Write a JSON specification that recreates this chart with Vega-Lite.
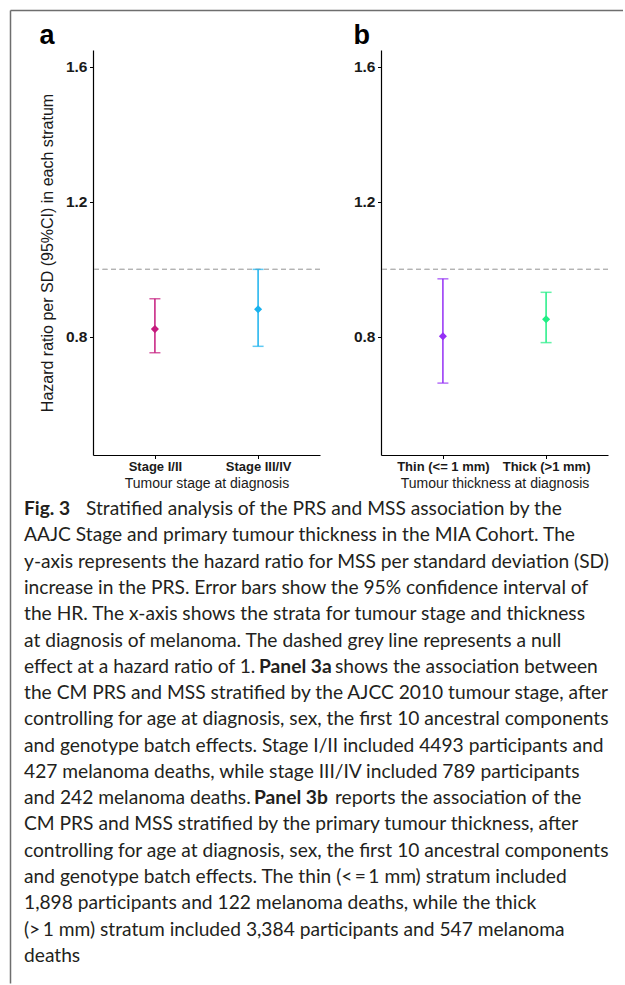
{
  "$schema": "https://vega.github.io/schema/vega-lite/v6.json",
  "background": "white",
  "padding": {"left": 10, "top": 10, "right": 0, "bottom": 0},
  "bounds": "flush",
  "align": "none",
  "spacing": -933,
  "datasets": {
    "stage": [
      {"stratum": "Stage I/II", "hr": 0.823, "lower": 0.753, "upper": 0.913},
      {"stratum": "Stage III/IV", "hr": 0.882, "lower": 0.772, "upper": 1.0}
    ],
    "thickness": [
      {"stratum": "Thin (<= 1 mm)", "hr": 0.802, "lower": 0.663, "upper": 0.972},
      {"stratum": "Thick (>1 mm)", "hr": 0.852, "lower": 0.783, "upper": 0.932}
    ],
    "frame": [{"v": 0}],
    "spacer": [{"v": 0}],
    "caption": [
      {"line": 1, "seg": "b1", "text": "Fig. 3"},
      {"line": 1, "seg": "r1", "text": "Stratified analysis of the PRS and MSS association by the"},
      {"line": 2, "seg": "r", "text": "AAJC Stage and primary tumour thickness in the MIA Cohort. The"},
      {"line": 3, "seg": "r", "text": "y-axis represents the hazard ratio for MSS per standard deviation (SD)"},
      {"line": 4, "seg": "r", "text": "increase in the PRS. Error bars show the 95% confidence interval of"},
      {"line": 5, "seg": "r", "text": "the HR. The x-axis shows the strata for tumour stage and thickness"},
      {"line": 6, "seg": "r", "text": "at diagnosis of melanoma. The dashed grey line represents a null"},
      {"line": 7, "seg": "r", "text": "effect at a hazard ratio of 1."},
      {"line": 7, "seg": "b7", "text": "Panel 3a"},
      {"line": 7, "seg": "r7", "text": "shows the association between"},
      {"line": 8, "seg": "r", "text": "the CM PRS and MSS stratified by the AJCC 2010 tumour stage, after"},
      {"line": 9, "seg": "r", "text": "controlling for age at diagnosis, sex, the first 10 ancestral components"},
      {"line": 10, "seg": "r", "text": "and genotype batch effects. Stage I/II included 4493 participants and"},
      {"line": 11, "seg": "r", "text": "427 melanoma deaths, while stage III/IV included 789 participants"},
      {"line": 12, "seg": "r", "text": "and 242 melanoma deaths."},
      {"line": 12, "seg": "b12", "text": "Panel 3b"},
      {"line": 12, "seg": "r12", "text": "reports the association of the"},
      {"line": 13, "seg": "r", "text": "CM PRS and MSS stratified by the primary tumour thickness, after"},
      {"line": 14, "seg": "r", "text": "controlling for age at diagnosis, sex, the first 10 ancestral components"},
      {"line": 15, "seg": "r", "text": "and genotype batch effects. The thin (<\u2009=\u20091 mm) stratum included"},
      {"line": 16, "seg": "r", "text": "1,898 participants and 122 melanoma deaths, while the thick"},
      {"line": 17, "seg": "r", "text": "(>\u20091 mm) stratum included 3,384 participants and 547 melanoma"},
      {"line": 18, "seg": "r", "text": "deaths"}
    ]
  },
  "vconcat": [
    {
      "width": 613,
      "height": 973,
      "data": {"name": "frame"},
      "mark": {"type": "text", "text": ""},
      "encoding": {
        "x": {"field": "v", "type": "quantitative", "scale": {"domain": [0, 1]},
          "axis": {"orient": "top", "labels": false, "ticks": false, "title": null, "grid": false, "domainColor": "#6e6e6e", "domainWidth": 1.5}},
        "y": {"field": "v", "type": "quantitative", "scale": {"domain": [0, 1]},
          "axis": {"orient": "left", "labels": false, "ticks": false, "title": null, "grid": false, "domainColor": "#6e6e6e", "domainWidth": 1.5}}
      }
    },
    {
      "spacing": 5,
      "vconcat": [
        {
          "bounds": "flush",
          "spacing": 61,
          "resolve": {"scale": {"color": "independent", "x": "independent"}},
          "hconcat": [
            {
              "width": 22,
              "height": 405,
              "data": {"name": "spacer"},
              "mark": {"type": "text", "text": ""},
              "encoding": {}
            },
            {
              "width": 227,
              "height": 405,
              "title": {"text": "a", "anchor": "start", "frame": "bounds", "fontSize": 27, "fontWeight": "bold", "font": "Liberation Sans", "offset": 0, "color": "black"},
              "data": {"name": "stage"},
              "layer": [
                {
                  "mark": {"type": "rule", "strokeDash": [5, 3.5], "color": "#b3b3b3", "strokeWidth": 1.3},
                  "encoding": {
                    "y": {"datum": 1, "type": "quantitative", "scale": {"domain": [0.45, 1.65], "nice": false, "zero": false},
                      "axis": {"title": "Hazard ratio per SD (95%CI) in each stratum", "values": [0.8, 1.2, 1.6], "format": ".1f"}}
                  }
                },
                {
                  "mark": {"type": "rule", "strokeWidth": 1.5},
                  "encoding": {
                    "x": {"field": "stratum", "type": "nominal", "sort": null, "scale": {"type": "point", "padding": 0.6, "domain": ["Stage I/II", "Stage III/IV"]}, "axis": {"title": "Tumour stage at diagnosis"}},
                    "y": {"field": "lower", "type": "quantitative", "scale": {"domain": [0.45, 1.65], "nice": false, "zero": false},
                      "axis": {"title": "Hazard ratio per SD (95%CI) in each stratum", "values": [0.8, 1.2, 1.6], "format": ".1f"}},
                    "y2": {"field": "upper"},
                    "color": {"field": "stratum", "type": "nominal", "scale": {"domain": ["Stage I/II", "Stage III/IV"], "range": ["#c51b7d", "#1ab2ee"]}, "legend": null}
                  }
                },
                {
                  "mark": {"type": "tick", "size": 11, "thickness": 1.5},
                  "encoding": {
                    "x": {"field": "stratum", "type": "nominal", "sort": null, "scale": {"type": "point", "padding": 0.6, "domain": ["Stage I/II", "Stage III/IV"]}, "axis": {"title": "Tumour stage at diagnosis"}},
                    "y": {"field": "lower", "type": "quantitative", "scale": {"domain": [0.45, 1.65], "nice": false, "zero": false},
                      "axis": {"title": "Hazard ratio per SD (95%CI) in each stratum", "values": [0.8, 1.2, 1.6], "format": ".1f"}},
                    "color": {"field": "stratum", "type": "nominal", "scale": {"domain": ["Stage I/II", "Stage III/IV"], "range": ["#c51b7d", "#1ab2ee"]}, "legend": null}
                  }
                },
                {
                  "mark": {"type": "tick", "size": 11, "thickness": 1.5},
                  "encoding": {
                    "x": {"field": "stratum", "type": "nominal", "sort": null, "scale": {"type": "point", "padding": 0.6, "domain": ["Stage I/II", "Stage III/IV"]}, "axis": {"title": "Tumour stage at diagnosis"}},
                    "y": {"field": "upper", "type": "quantitative", "scale": {"domain": [0.45, 1.65], "nice": false, "zero": false},
                      "axis": {"title": "Hazard ratio per SD (95%CI) in each stratum", "values": [0.8, 1.2, 1.6], "format": ".1f"}},
                    "color": {"field": "stratum", "type": "nominal", "scale": {"domain": ["Stage I/II", "Stage III/IV"], "range": ["#c51b7d", "#1ab2ee"]}, "legend": null}
                  }
                },
                {
                  "mark": {"type": "point", "shape": "diamond", "filled": true, "size": 65, "opacity": 1},
                  "encoding": {
                    "x": {"field": "stratum", "type": "nominal", "sort": null, "scale": {"type": "point", "padding": 0.6, "domain": ["Stage I/II", "Stage III/IV"]}, "axis": {"title": "Tumour stage at diagnosis"}},
                    "y": {"field": "hr", "type": "quantitative", "scale": {"domain": [0.45, 1.65], "nice": false, "zero": false},
                      "axis": {"title": "Hazard ratio per SD (95%CI) in each stratum", "values": [0.8, 1.2, 1.6], "format": ".1f"}},
                    "color": {"field": "stratum", "type": "nominal", "scale": {"domain": ["Stage I/II", "Stage III/IV"], "range": ["#c51b7d", "#1ab2ee"]}, "legend": null}
                  }
                }
              ]
            },
            {
              "width": 227,
              "height": 405,
              "title": {"text": "b", "anchor": "start", "frame": "bounds", "fontSize": 27, "fontWeight": "bold", "font": "Liberation Sans", "offset": 0, "color": "black"},
              "data": {"name": "thickness"},
              "layer": [
                {
                  "mark": {"type": "rule", "strokeDash": [5, 3.5], "color": "#b3b3b3", "strokeWidth": 1.3},
                  "encoding": {
                    "y": {"datum": 1, "type": "quantitative", "scale": {"domain": [0.45, 1.65], "nice": false, "zero": false},
                      "axis": {"title": null, "values": [0.8, 1.2, 1.6], "format": ".1f"}}
                  }
                },
                {
                  "mark": {"type": "rule", "strokeWidth": 1.5},
                  "encoding": {
                    "x": {"field": "stratum", "type": "nominal", "sort": null, "scale": {"type": "point", "padding": 0.6, "domain": ["Thin (<= 1 mm)", "Thick (>1 mm)"]}, "axis": {"title": "Tumour thickness at diagnosis"}},
                    "y": {"field": "lower", "type": "quantitative", "scale": {"domain": [0.45, 1.65], "nice": false, "zero": false},
                      "axis": {"title": null, "values": [0.8, 1.2, 1.6], "format": ".1f"}},
                    "y2": {"field": "upper"},
                    "color": {"field": "stratum", "type": "nominal", "scale": {"domain": ["Thin (<= 1 mm)", "Thick (>1 mm)"], "range": ["#9430f5", "#21ee85"]}, "legend": null}
                  }
                },
                {
                  "mark": {"type": "tick", "size": 11, "thickness": 1.5},
                  "encoding": {
                    "x": {"field": "stratum", "type": "nominal", "sort": null, "scale": {"type": "point", "padding": 0.6, "domain": ["Thin (<= 1 mm)", "Thick (>1 mm)"]}, "axis": {"title": "Tumour thickness at diagnosis"}},
                    "y": {"field": "lower", "type": "quantitative", "scale": {"domain": [0.45, 1.65], "nice": false, "zero": false},
                      "axis": {"title": null, "values": [0.8, 1.2, 1.6], "format": ".1f"}},
                    "color": {"field": "stratum", "type": "nominal", "scale": {"domain": ["Thin (<= 1 mm)", "Thick (>1 mm)"], "range": ["#9430f5", "#21ee85"]}, "legend": null}
                  }
                },
                {
                  "mark": {"type": "tick", "size": 11, "thickness": 1.5},
                  "encoding": {
                    "x": {"field": "stratum", "type": "nominal", "sort": null, "scale": {"type": "point", "padding": 0.6, "domain": ["Thin (<= 1 mm)", "Thick (>1 mm)"]}, "axis": {"title": "Tumour thickness at diagnosis"}},
                    "y": {"field": "upper", "type": "quantitative", "scale": {"domain": [0.45, 1.65], "nice": false, "zero": false},
                      "axis": {"title": null, "values": [0.8, 1.2, 1.6], "format": ".1f"}},
                    "color": {"field": "stratum", "type": "nominal", "scale": {"domain": ["Thin (<= 1 mm)", "Thick (>1 mm)"], "range": ["#9430f5", "#21ee85"]}, "legend": null}
                  }
                },
                {
                  "mark": {"type": "point", "shape": "diamond", "filled": true, "size": 65, "opacity": 1},
                  "encoding": {
                    "x": {"field": "stratum", "type": "nominal", "sort": null, "scale": {"type": "point", "padding": 0.6, "domain": ["Thin (<= 1 mm)", "Thick (>1 mm)"]}, "axis": {"title": "Tumour thickness at diagnosis"}},
                    "y": {"field": "hr", "type": "quantitative", "scale": {"domain": [0.45, 1.65], "nice": false, "zero": false},
                      "axis": {"title": null, "values": [0.8, 1.2, 1.6], "format": ".1f"}},
                    "color": {"field": "stratum", "type": "nominal", "scale": {"domain": ["Thin (<= 1 mm)", "Thick (>1 mm)"], "range": ["#9430f5", "#21ee85"]}, "legend": null}
                  }
                }
              ]
            }
          ]
        },
        {
          "width": 600,
          "height": 473,
          "data": {"name": "caption"},
          "encoding": {
            "x": {"datum": 0, "type": "quantitative", "scale": {"domain": [0, 1]}, "axis": null},
            "y": {"field": "line", "type": "quantitative", "scale": {"domain": [0.5, 18.5], "reverse": true}, "axis": null},
            "text": {"field": "text"}
          },
          "layer": [
            {"transform": [{"filter": "datum.seg === 'r'"}],
             "mark": {"type": "text", "align": "left", "baseline": "middle", "dx": 14, "font": "Lato", "fontSize": 19.2, "color": "#231f20"}},
            {"transform": [{"filter": "datum.seg === 'b1'"}],
             "mark": {"type": "text", "align": "left", "baseline": "middle", "dx": 14, "font": "Lato", "fontSize": 19.2, "fontWeight": "bold", "color": "#231f20"}},
            {"transform": [{"filter": "datum.seg === 'r1'"}],
             "mark": {"type": "text", "align": "left", "baseline": "middle", "dx": 76, "font": "Lato", "fontSize": 19.2, "color": "#231f20"}},
            {"transform": [{"filter": "datum.seg === 'b7'"}],
             "mark": {"type": "text", "align": "left", "baseline": "middle", "dx": 249, "font": "Lato", "fontSize": 19.2, "fontWeight": "bold", "color": "#231f20"}},
            {"transform": [{"filter": "datum.seg === 'r7'"}],
             "mark": {"type": "text", "align": "left", "baseline": "middle", "dx": 325, "font": "Lato", "fontSize": 19.2, "color": "#231f20"}},
            {"transform": [{"filter": "datum.seg === 'b12'"}],
             "mark": {"type": "text", "align": "left", "baseline": "middle", "dx": 244, "font": "Lato", "fontSize": 19.2, "fontWeight": "bold", "color": "#231f20"}},
            {"transform": [{"filter": "datum.seg === 'r12'"}],
             "mark": {"type": "text", "align": "left", "baseline": "middle", "dx": 325, "font": "Lato", "fontSize": 19.2, "color": "#231f20"}}
          ]
        }
      ]
    }
  ],
  "config": {
    "view": {"stroke": null},
    "font": "Liberation Sans",
    "axis": {
      "grid": false,
      "domainColor": "black",
      "domainWidth": 1.2,
      "tickColor": "black",
      "tickWidth": 1,
      "tickSize": 3.5,
      "labelColor": "#1a1a1a",
      "titleColor": "#1a1a1a",
      "labelFont": "Liberation Sans",
      "titleFont": "Liberation Sans",
      "labelFontWeight": "bold",
      "titleFontWeight": "normal",
      "titleFontSize": 14
    },
    "axisY": {"labelFontSize": 15.5, "labelPadding": 2.5, "titlePadding": 10, "titleFontSize": 16},
    "axisX": {"labelFontSize": 13, "labelPadding": 2, "titlePadding": 3, "labelAngle": 0}
  }
}
